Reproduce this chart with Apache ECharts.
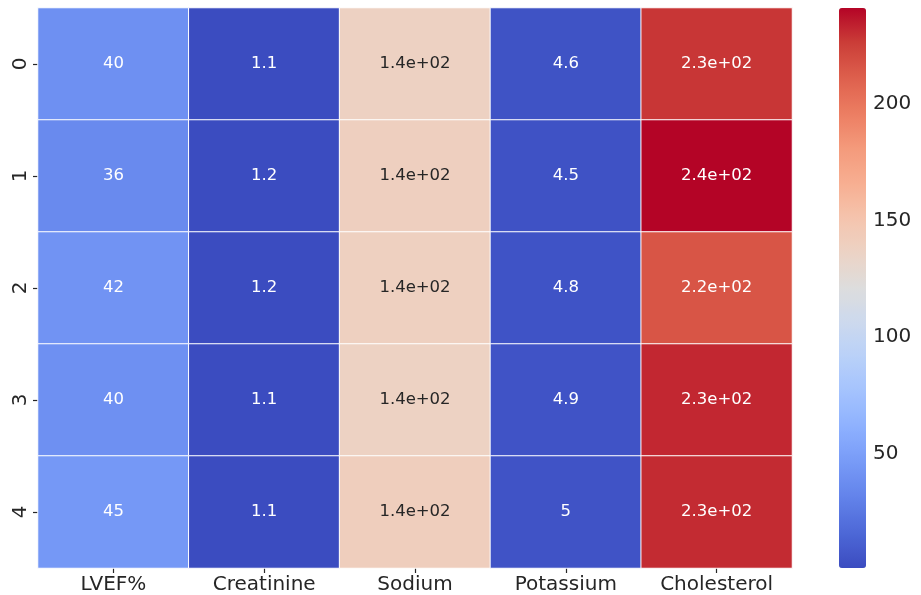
<!DOCTYPE html>
<html>
<head>
<meta charset="utf-8">
<script src="https://cdn.jsdelivr.net/npm/echarts@6/dist/echarts.min.js"></script>
<style>
  html, body { margin: 0; padding: 0; background: #fff; }
  #chart { width: 921px; height: 595px; }
</style>
</head>
<body>
<div id="chart"></div>
<script>
// columns and rows of the heatmap
const columns = ['LVEF%', 'Creatinine', 'Sodium', 'Potassium', 'Cholesterol'];
const rows = ['0', '1', '2', '3', '4'];

// values per column, one per row
const lvef = [40, 36, 42, 40, 45];
const creatinine = [1.1, 1.2, 1.2, 1.1, 1.1];
const sodium = [138, 140, 139, 137, 141];
const potassium = [4.6, 4.5, 4.8, 4.9, 5.0];
const cholesterol = [228, 241, 216, 232, 231];

// colorbar ticks
const barTicks = [50, 100, 150, 200];

// coolwarm colormap samples
const coolwarm = ['#3b4cc0', '#4d68d7', '#6282ea', '#779af7', '#8db0fe', '#a3c2fe',
                  '#b8d0f9', '#ccd9ee', '#dddddd', '#ecd3c5', '#f5c4ad', '#f7ae91',
                  '#f49a7b', '#ec7d62', '#de604d', '#cb3e38', '#b40426'];

const table = [lvef, creatinine, sodium, potassium, cholesterol];
const all = [].concat(...table);
const vmin = Math.min(...all);
const vmax = Math.max(...all);

// same as python '%.2g'
function fmt2g(v) {
    const e = Math.floor(Math.log10(Math.abs(v)));
    if (e < -4 || e >= 2) {
        let s = v.toExponential(1);
        let [m, ex] = s.split('e');
        m = m.replace(/\.0$/, '');
        const sign = ex[0];
        let digits = ex.slice(1);
        if (digits.length < 2) digits = '0' + digits;
        return m + 'e' + sign + digits;
    }
    return String(Number(v.toPrecision(2)));
}

const data = [];
table.forEach((col, ci) => {
    col.forEach((v, ri) => {
        const t = (v - vmin) / (vmax - vmin);
        const dark = t > 0.3 && t < 0.7;
        data.push({
            value: [ci, ri, v],
            label: { color: dark ? '#262626' : '#ffffff' }
        });
    });
});

const chart = echarts.init(document.getElementById('chart'));
const font = 'DejaVu Sans';

const option = {
    animation: false,
    textStyle: { fontFamily: font },
    grid: [
        { left: 38, top: 8, width: 754, height: 560 },
        { left: 839, top: 8, width: 27, height: 560 }
    ],
    xAxis: [
        {
            type: 'category',
            data: columns,
            gridIndex: 0,
            position: 'bottom',
            axisLine: { show: false },
            axisTick: { show: true, alignWithLabel: true, length: 5, lineStyle: { color: '#262626', width: 1.2 } },
            axisLabel: { color: '#262626', fontSize: 20, margin: 7, fontFamily: font },
            splitLine: { show: false }
        },
        {
            type: 'value',
            gridIndex: 1,
            show: false
        }
    ],
    yAxis: [
        {
            type: 'category',
            data: rows,
            gridIndex: 0,
            inverse: true,
            axisLine: { show: false },
            axisTick: { show: true, alignWithLabel: true, length: 5, lineStyle: { color: '#262626', width: 1.2 } },
            axisLabel: { color: '#262626', fontSize: 20, rotate: 90, margin: 7, fontFamily: font },
            splitLine: { show: false }
        },
        {
            type: 'value',
            gridIndex: 1,
            position: 'right',
            min: vmin,
            max: vmax,
            axisLine: { show: false },
            splitLine: { show: false },
            axisTick: { show: true, length: 5, customValues: barTicks, lineStyle: { color: '#262626', width: 1.2 } },
            axisLabel: { color: '#262626', fontSize: 20, margin: 7, customValues: barTicks, fontFamily: font }
        }
    ],
    visualMap: {
        type: 'continuous',
        seriesIndex: 0,
        min: vmin,
        max: vmax,
        calculable: false,
        realtime: false,
        orient: 'vertical',
        left: 839,
        top: 8,
        padding: 0,
        itemWidth: 27,
        itemHeight: 560,
        text: null,
        showLabel: false,
        hoverLink: false,
        inRange: { color: coolwarm }
    },
    series: [
        {
            type: 'heatmap',
            xAxisIndex: 0,
            yAxisIndex: 0,
            data: data,
            itemStyle: { borderColor: '#ffffff', borderWidth: 1 },
            label: {
                show: true,
                fontSize: 16.5,
                fontFamily: font,
                formatter: p => fmt2g(p.value[2])
            }
        },
        {
            type: 'line',
            xAxisIndex: 1,
            yAxisIndex: 1,
            data: [],
            silent: true
        }
    ]
};

chart.setOption(option);
</script>
</body>
</html>
